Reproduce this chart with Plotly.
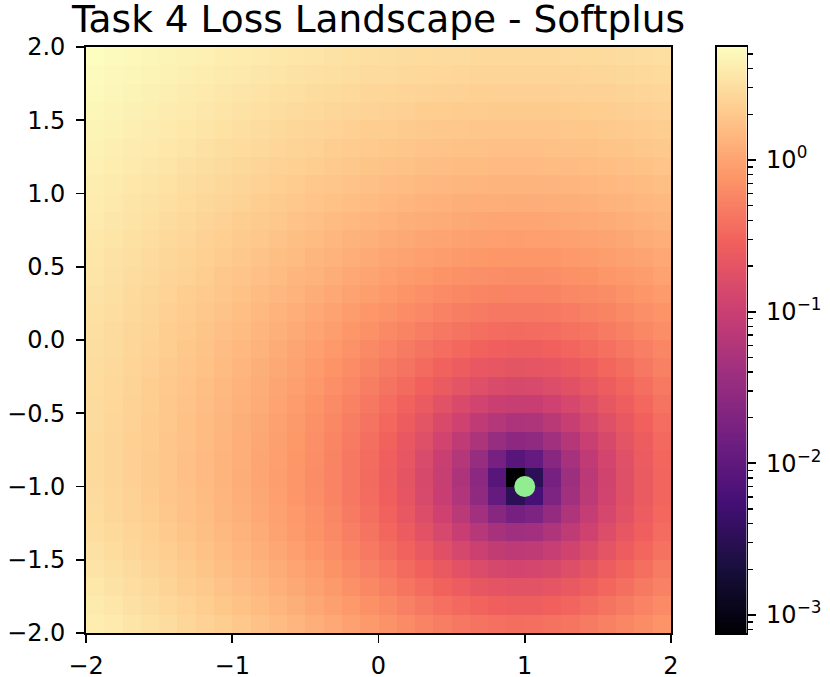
import numpy as np
import plotly.graph_objects as go

# ---- data (loss on a 32x32 grid, bottom row first) ----
title_text = "Task 4 Loss Landscape - Softplus"
w_range = [-2.0, 2.0]          # x extent
b_range = [-2.0, 2.0]          # y extent
optimum = [1.0, -1.0]          # green marker
x_tick_vals = [-2, -1, 0, 1, 2]
x_tick_text = ["\u22122", "\u22121", "0", "1", "2"]
y_tick_vals = [-2.0, -1.5, -1.0, -0.5, 0.0, 0.5, 1.0, 1.5, 2.0]
y_tick_text = ["\u22122.0", "\u22121.5", "\u22121.0", "\u22120.5", "0.0", "0.5", "1.0", "1.5", "2.0"]
cbar_tick_vals = [-3, -2, -1, 0]
cbar_tick_text = ["10<sup>\u22123</sup>", "10<sup>\u22122</sup>", "10<sup>\u22121</sup>", "10<sup>0</sup>"]
loss_min = 0.00076
loss_max = 5.562

loss = [
 [4.172, 3.837, 3.519, 3.219, 2.933, 2.666, 2.413, 2.177, 1.954, 1.749, 1.558, 1.383, 1.222, 1.076, 0.944, 0.826, 0.722, 0.633, 0.556, 0.493, 0.444, 0.407, 0.383, 0.372, 0.374, 0.390, 0.417, 0.458, 0.510, 0.575, 0.652, 0.742],
 [3.866, 3.551, 3.250, 2.966, 2.696, 2.443, 2.204, 1.980, 1.770, 1.576, 1.394, 1.228, 1.075, 0.937, 0.811, 0.700, 0.602, 0.517, 0.444, 0.385, 0.338, 0.303, 0.281, 0.271, 0.273, 0.288, 0.315, 0.353, 0.404, 0.466, 0.540, 0.626],
 [3.604, 3.306, 3.021, 2.752, 2.496, 2.256, 2.029, 1.816, 1.616, 1.432, 1.259, 1.101, 0.956, 0.824, 0.704, 0.598, 0.504, 0.423, 0.354, 0.297, 0.253, 0.220, 0.199, 0.189, 0.192, 0.206, 0.232, 0.269, 0.318, 0.378, 0.449, 0.532],
 [3.381, 3.098, 2.828, 2.572, 2.328, 2.100, 1.883, 1.681, 1.490, 1.314, 1.149, 0.998, 0.859, 0.733, 0.618, 0.516, 0.427, 0.349, 0.283, 0.228, 0.185, 0.154, 0.134, 0.125, 0.128, 0.142, 0.167, 0.203, 0.250, 0.308, 0.377, 0.457],
 [3.194, 2.924, 2.666, 2.422, 2.190, 1.972, 1.765, 1.571, 1.388, 1.219, 1.061, 0.916, 0.782, 0.661, 0.551, 0.453, 0.367, 0.291, 0.228, 0.175, 0.134, 0.104, 0.0844, 0.0761, 0.0787, 0.0922, 0.116, 0.151, 0.197, 0.254, 0.321, 0.399],
 [3.041, 2.783, 2.537, 2.303, 2.080, 1.870, 1.672, 1.485, 1.309, 1.147, 0.994, 0.854, 0.725, 0.608, 0.501, 0.406, 0.322, 0.249, 0.187, 0.136, 0.0962, 0.0669, 0.0482, 0.0402, 0.0429, 0.0561, 0.0798, 0.114, 0.159, 0.214, 0.280, 0.357],
 [2.920, 2.672, 2.435, 2.210, 1.996, 1.794, 1.602, 1.422, 1.251, 1.094, 0.946, 0.810, 0.685, 0.571, 0.467, 0.374, 0.292, 0.221, 0.160, 0.110, 0.0711, 0.0424, 0.0241, 0.01625, 0.01885, 0.0318, 0.0553, 0.0890, 0.133, 0.188, 0.253, 0.328],
 [2.830, 2.591, 2.361, 2.144, 1.936, 1.740, 1.553, 1.378, 1.213, 1.059, 0.915, 0.782, 0.660, 0.549, 0.446, 0.356, 0.275, 0.205, 0.145, 0.0962, 0.0574, 0.0290, 0.01097, 0.00323, 0.00581, 0.0187, 0.0419, 0.0753, 0.119, 0.173, 0.238, 0.312],
 [2.781, 2.547, 2.323, 2.110, 1.906, 1.714, 1.531, 1.359, 1.196, 1.045, 0.903, 0.772, 0.651, 0.541, 0.440, 0.350, 0.271, 0.201, 0.142, 0.0932, 0.0546, 0.0264, 0.00836, 0.00076, 0.00322, 0.0161, 0.0392, 0.0727, 0.116, 0.170, 0.235, 0.309],
 [2.789, 2.555, 2.331, 2.118, 1.914, 1.722, 1.539, 1.367, 1.204, 1.053, 0.911, 0.780, 0.659, 0.549, 0.448, 0.358, 0.278, 0.209, 0.150, 0.101, 0.0623, 0.0340, 0.0161, 0.00836, 0.0109, 0.0238, 0.0469, 0.0803, 0.124, 0.178, 0.242, 0.317],
 [2.807, 2.573, 2.349, 2.136, 1.932, 1.740, 1.557, 1.385, 1.222, 1.071, 0.929, 0.798, 0.677, 0.567, 0.466, 0.376, 0.296, 0.227, 0.168, 0.119, 0.0803, 0.0520, 0.0340, 0.0263, 0.0289, 0.0418, 0.0649, 0.0983, 0.142, 0.196, 0.260, 0.335],
 [2.835, 2.601, 2.377, 2.164, 1.960, 1.768, 1.585, 1.413, 1.250, 1.099, 0.957, 0.826, 0.705, 0.595, 0.494, 0.404, 0.325, 0.255, 0.196, 0.147, 0.109, 0.0803, 0.0623, 0.0546, 0.0572, 0.0701, 0.0932, 0.127, 0.170, 0.224, 0.289, 0.363],
 [2.874, 2.640, 2.416, 2.203, 1.999, 1.807, 1.624, 1.452, 1.289, 1.138, 0.996, 0.865, 0.744, 0.634, 0.533, 0.443, 0.363, 0.294, 0.235, 0.186, 0.147, 0.119, 0.101, 0.0932, 0.0958, 0.109, 0.132, 0.165, 0.209, 0.263, 0.327, 0.402],
 [2.923, 2.689, 2.465, 2.252, 2.048, 1.856, 1.673, 1.501, 1.338, 1.187, 1.045, 0.914, 0.793, 0.683, 0.582, 0.492, 0.412, 0.343, 0.284, 0.235, 0.196, 0.168, 0.150, 0.142, 0.145, 0.158, 0.181, 0.214, 0.258, 0.312, 0.376, 0.451],
 [2.982, 2.748, 2.524, 2.311, 2.107, 1.915, 1.732, 1.560, 1.397, 1.246, 1.104, 0.973, 0.852, 0.742, 0.641, 0.551, 0.471, 0.402, 0.343, 0.294, 0.255, 0.227, 0.209, 0.201, 0.204, 0.217, 0.240, 0.273, 0.317, 0.371, 0.435, 0.510],
 [3.051, 2.817, 2.593, 2.380, 2.176, 1.984, 1.801, 1.629, 1.466, 1.315, 1.173, 1.042, 0.921, 0.811, 0.710, 0.620, 0.541, 0.471, 0.412, 0.363, 0.325, 0.296, 0.278, 0.271, 0.273, 0.286, 0.309, 0.343, 0.387, 0.441, 0.505, 0.579],
 [3.131, 2.897, 2.673, 2.460, 2.256, 2.064, 1.881, 1.709, 1.546, 1.395, 1.253, 1.122, 1.001, 0.891, 0.790, 0.700, 0.620, 0.551, 0.492, 0.443, 0.404, 0.376, 0.358, 0.350, 0.353, 0.366, 0.389, 0.422, 0.466, 0.520, 0.584, 0.659],
 [3.221, 2.987, 2.763, 2.550, 2.346, 2.154, 1.971, 1.799, 1.636, 1.485, 1.343, 1.212, 1.091, 0.981, 0.880, 0.790, 0.710, 0.641, 0.582, 0.533, 0.494, 0.466, 0.448, 0.440, 0.443, 0.456, 0.479, 0.512, 0.556, 0.610, 0.674, 0.749],
 [3.322, 3.088, 2.864, 2.651, 2.447, 2.255, 2.072, 1.900, 1.737, 1.586, 1.444, 1.313, 1.192, 1.082, 0.981, 0.891, 0.811, 0.742, 0.683, 0.634, 0.595, 0.567, 0.549, 0.541, 0.544, 0.557, 0.580, 0.613, 0.657, 0.711, 0.775, 0.850],
 [3.432, 3.198, 2.974, 2.761, 2.557, 2.365, 2.182, 2.010, 1.847, 1.696, 1.554, 1.423, 1.302, 1.192, 1.091, 1.001, 0.921, 0.852, 0.793, 0.744, 0.705, 0.677, 0.659, 0.651, 0.654, 0.667, 0.690, 0.723, 0.767, 0.821, 0.885, 0.960],
 [3.553, 3.319, 3.095, 2.882, 2.678, 2.486, 2.303, 2.131, 1.968, 1.817, 1.675, 1.544, 1.423, 1.313, 1.212, 1.122, 1.042, 0.973, 0.914, 0.865, 0.826, 0.798, 0.780, 0.772, 0.775, 0.788, 0.811, 0.844, 0.888, 0.942, 1.006, 1.081],
 [3.684, 3.450, 3.226, 3.013, 2.809, 2.617, 2.434, 2.262, 2.099, 1.948, 1.806, 1.675, 1.554, 1.444, 1.343, 1.253, 1.173, 1.104, 1.045, 0.996, 0.957, 0.929, 0.911, 0.903, 0.906, 0.919, 0.942, 0.975, 1.019, 1.073, 1.137, 1.212],
 [3.826, 3.592, 3.368, 3.155, 2.951, 2.759, 2.576, 2.404, 2.241, 2.090, 1.948, 1.817, 1.696, 1.586, 1.485, 1.395, 1.315, 1.246, 1.187, 1.138, 1.099, 1.071, 1.053, 1.045, 1.048, 1.061, 1.084, 1.117, 1.161, 1.215, 1.279, 1.354],
 [3.977, 3.743, 3.519, 3.306, 3.102, 2.910, 2.727, 2.555, 2.392, 2.241, 2.099, 1.968, 1.847, 1.737, 1.636, 1.546, 1.466, 1.397, 1.338, 1.289, 1.250, 1.222, 1.204, 1.196, 1.199, 1.212, 1.235, 1.268, 1.312, 1.366, 1.430, 1.505],
 [4.140, 3.906, 3.682, 3.469, 3.265, 3.073, 2.890, 2.718, 2.555, 2.404, 2.262, 2.131, 2.010, 1.900, 1.799, 1.709, 1.629, 1.560, 1.501, 1.452, 1.413, 1.385, 1.367, 1.359, 1.362, 1.375, 1.398, 1.431, 1.475, 1.529, 1.593, 1.668],
 [4.312, 4.078, 3.854, 3.641, 3.437, 3.245, 3.062, 2.890, 2.727, 2.576, 2.434, 2.303, 2.182, 2.072, 1.971, 1.881, 1.801, 1.732, 1.673, 1.624, 1.585, 1.557, 1.539, 1.531, 1.534, 1.547, 1.570, 1.603, 1.647, 1.701, 1.765, 1.840],
 [4.495, 4.261, 4.037, 3.824, 3.620, 3.428, 3.245, 3.073, 2.910, 2.759, 2.617, 2.486, 2.365, 2.255, 2.154, 2.064, 1.984, 1.915, 1.856, 1.807, 1.768, 1.740, 1.722, 1.714, 1.717, 1.730, 1.753, 1.786, 1.830, 1.884, 1.948, 2.023],
 [4.687, 4.453, 4.229, 4.016, 3.812, 3.620, 3.437, 3.265, 3.102, 2.951, 2.809, 2.678, 2.557, 2.447, 2.346, 2.256, 2.176, 2.107, 2.048, 1.999, 1.960, 1.932, 1.914, 1.906, 1.909, 1.922, 1.945, 1.978, 2.022, 2.076, 2.140, 2.215],
 [4.891, 4.657, 4.433, 4.220, 4.016, 3.824, 3.641, 3.469, 3.306, 3.155, 3.013, 2.882, 2.761, 2.651, 2.550, 2.460, 2.380, 2.311, 2.252, 2.203, 2.164, 2.136, 2.118, 2.110, 2.113, 2.126, 2.149, 2.182, 2.226, 2.280, 2.344, 2.419],
 [5.104, 4.870, 4.646, 4.433, 4.229, 4.037, 3.854, 3.682, 3.519, 3.368, 3.226, 3.095, 2.974, 2.864, 2.763, 2.673, 2.593, 2.524, 2.465, 2.416, 2.377, 2.349, 2.331, 2.323, 2.326, 2.339, 2.362, 2.395, 2.439, 2.493, 2.557, 2.632],
 [5.328, 5.094, 4.870, 4.657, 4.453, 4.261, 4.078, 3.906, 3.743, 3.592, 3.450, 3.319, 3.198, 3.088, 2.987, 2.897, 2.817, 2.748, 2.689, 2.640, 2.601, 2.573, 2.555, 2.547, 2.550, 2.563, 2.586, 2.619, 2.663, 2.717, 2.781, 2.856],
 [5.562, 5.328, 5.104, 4.891, 4.687, 4.495, 4.312, 4.140, 3.977, 3.826, 3.684, 3.553, 3.432, 3.322, 3.221, 3.131, 3.051, 2.982, 2.923, 2.874, 2.835, 2.807, 2.789, 2.781, 2.784, 2.797, 2.820, 2.853, 2.897, 2.951, 3.015, 3.090],
]

# ---- figure geometry (pixels) ----
W, H = 830, 677
ax_l, ax_r, ax_t, ax_b = 86, 671, 47, 633
cb_l, cb_r = 717, 746.5
title_base = 31.5
FONT = "DejaVu Sans"
LW = 1.8

Z = np.log10(np.array(loss))
nrows, ncols = Z.shape
dx = (w_range[1] - w_range[0]) / ncols
dy = (b_range[1] - b_range[0]) / nrows
zlo, zhi = np.log10(loss_min), np.log10(loss_max)

fig = go.Figure()
fig.add_trace(go.Heatmap(
    z=Z, x0=w_range[0] + dx / 2, dx=dx, y0=b_range[0] + dy / 2, dy=dy,
    colorscale="Magma", zmin=zlo, zmax=zhi, showscale=False, hoverinfo="skip",
    xaxis="x", yaxis="y"))
fig.add_trace(go.Scatter(
    x=[optimum[0]], y=[optimum[1]], mode="markers",
    marker=dict(size=21, color="#90ee90", line=dict(width=0)),
    showlegend=False, cliponaxis=False, xaxis="x", yaxis="y"))

# colorbar drawn as its own axis
grad = np.linspace(zlo, zhi, 512)
fig.add_trace(go.Heatmap(
    z=grad.reshape(-1, 1), x0=0.5, dx=1, y=grad,
    colorscale="Magma", zmin=zlo, zmax=zhi, showscale=False, hoverinfo="skip",
    xaxis="x2", yaxis="y2"))

minor_vals = []
for n in range(-4, 1):
    for k in range(2, 10):
        v = np.log10(k * 10.0 ** n)
        if zlo <= v <= zhi:
            minor_vals.append(float(v))

tickfont = dict(family=FONT, size=24, color="black")
ydom = [1 - ax_b / H, 1 - ax_t / H]
common = dict(showgrid=False, zeroline=False, automargin=False,
              showline=True, linecolor="black", linewidth=LW, mirror=True)
fig.update_layout(
    template="none",
    width=W, height=H,
    margin=dict(l=0, r=0, t=0, b=0, pad=0, autoexpand=False),
    paper_bgcolor="white", plot_bgcolor="white",
    showlegend=False,
    title=dict(text=title_text, x=(ax_l + ax_r) / 2 / W, xanchor="center", xref="paper",
               y=1 - title_base / H, yanchor="bottom", yref="container", automargin=False,
               font=dict(family=FONT, size=37.5, color="black")),
    xaxis=dict(domain=[ax_l / W, ax_r / W], range=w_range, anchor="y",
               tickmode="array", tickvals=x_tick_vals, ticktext=x_tick_text,
               ticks="outside", ticklen=8, tickwidth=LW, tickcolor="black",
               ticklabelstandoff=2, tickfont=tickfont, **common),
    yaxis=dict(domain=ydom, range=b_range, anchor="x",
               tickmode="array", tickvals=y_tick_vals, ticktext=y_tick_text,
               ticks="outside", ticklen=8, tickwidth=LW, tickcolor="black",
               ticklabelstandoff=6, tickfont=tickfont, **common),
    xaxis2=dict(domain=[cb_l / W, cb_r / W], range=[0, 1], anchor="y2",
                showticklabels=False, ticks="", **common),
    yaxis2=dict(domain=ydom, range=[zlo, zhi], anchor="x2", side="right",
                tickmode="array", tickvals=cbar_tick_vals, ticktext=cbar_tick_text,
                ticks="outside", ticklen=8, tickwidth=LW, tickcolor="black",
                ticklabelstandoff=5, tickfont=tickfont,
                minor=dict(tickmode="array", tickvals=minor_vals, ticks="outside",
                           ticklen=4.6, tickwidth=1.4, tickcolor="black", showgrid=False),
                **common),
)

# remove the browser's default page margin so the 830x677 figure fills the window
fig.write_html("out.html",
               config={"displayModeBar": False, "staticPlot": True},
               post_script="document.body.style.margin='0';document.body.style.overflow='hidden';")
